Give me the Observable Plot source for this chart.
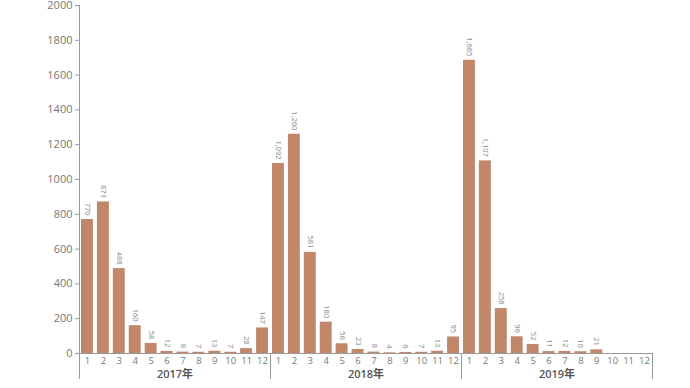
<!DOCTYPE html>
<html><head><meta charset="utf-8">
<script src="https://cdn.jsdelivr.net/npm/d3@7"></script>
<script src="https://cdn.jsdelivr.net/npm/@observablehq/plot@0.6"></script>
<style>body{margin:0;background:#fff;}</style>
</head><body><div id="chart"></div>
<script>
const years = ["2017年", "2018年", "2019年"];
const months = [1, 2, 3, 4, 5, 6, 7, 8, 9, 10, 11, 12];
const v2017 = [770, 871, 488, 160, 58, 12, 8, 7, 13, 7, 28, 147];
const v2018 = [1092, 1260, 581, 180, 56, 23, 8, 4, 6, 7, 13, 95];
const v2019 = [1685, 1107, 258, 96, 52, 11, 12, 10, 21, null, null, null];
const yTicks = [0, 200, 400, 600, 800, 1000, 1200, 1400, 1600, 1800, 2000];

const series = [v2017, v2018, v2019];
const data = [];
series.forEach((vals, yi) => vals.forEach((v, mi) => {
  if (v != null) data.push({i: yi * 12 + mi, year: years[yi], month: months[mi], value: v});
}));
const nSlots = years.length * months.length;
const monthTicks = d3.range(nSlots).map(i => i + 0.5);
const yearTicks = years.map((_, yi) => yi * 12 + 6);
const bounds = years.map((_, yi) => (yi + 1) * 12);

const chart = Plot.plot({
  width: 690, height: 388,
  marginTop: 5, marginLeft: 79, marginRight: 38, marginBottom: 35,
  style: {fontFamily: "'Open Sans', 'Noto Sans CJK SC', sans-serif", background: "#fff", color: "#777", overflow: "visible"},
  x: {domain: [0, nSlots], axis: null, label: null},
  y: {domain: [0, 2000], axis: null, label: null},
  marks: [
    Plot.axisY({ticks: yTicks, tickFormat: d => String(d), label: null, tickSize: 4, tickPadding: 3, fontSize: 11, stroke: "#999"}),
    Plot.axisX({ticks: monthTicks, tickFormat: d => months[Math.floor(d) % 12], label: null, tickSize: 0, tickPadding: 4, fontSize: 9.5, fill: "#777"}),
    Plot.axisX({ticks: yearTicks, tickFormat: d => years[Math.floor(d / 12)], label: null, tickSize: 0, tickPadding: 17, fontSize: 11, fontWeight: 600, fill: "#555"}),
    Plot.rectY(data, {x1: "i", x2: d => d.i + 1, y: "value", insetLeft: 2, insetRight: 2, fill: "#c0876a"}),
    Plot.text(data, {x: d => d.i + 0.5, y: "value", text: d => d3.format(",")(d.value), rotate: 90, textAnchor: "end", dy: -4, fontSize: 7.5, fill: "#888"}),
    Plot.ruleY([0], {stroke: "#999"}),
    Plot.ruleX([0], {y1: -150, y2: 2000, stroke: "#999"}),
    Plot.ruleX(bounds, {y1: -150, y2: 0, stroke: "#999"})
  ]
});
document.getElementById("chart").append(chart);
</script>
</body></html>
